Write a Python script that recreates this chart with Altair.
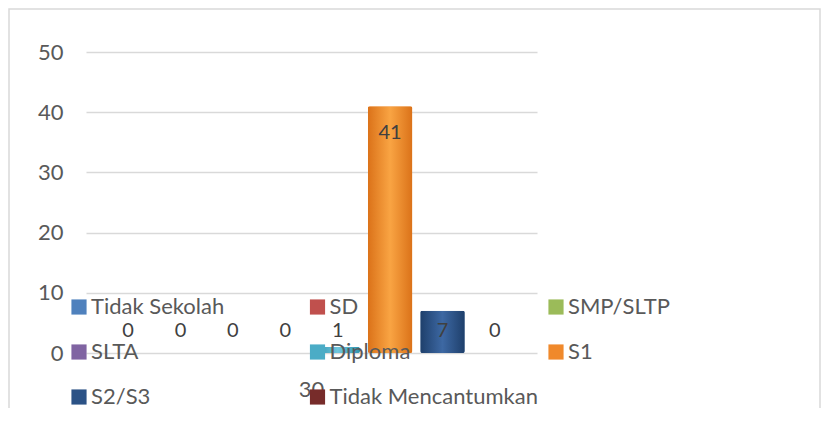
import altair as alt
import pandas as pd

categories = ["Tidak Sekolah", "SD", "SMP/SLTP", "SLTA", "Diploma", "S1", "S2/S3", "Tidak Mencantumkan"]
values = [0, 0, 0, 0, 1, 41, 7, 0]
group_label = "30"
y_ticks = [0, 10, 20, 30, 40, 50]

base_colors = ["#4F81BD", "#C0504D", "#9BBB59", "#8064A2", "#4BACC6", "#F0892B", "#2B5286", "#772C2A"]
dark_colors = ["#3A6AA8", "#A53B38", "#7FA03E", "#664C88", "#2F93AE", "#DB7219", "#1E3F6B", "#5E1F1D"]
light_colors = ["#6A9AD4", "#D8706C", "#B5D273", "#9A80BC", "#6FC6DD", "#F9A443", "#3D68A3", "#923B38"]

df = pd.DataFrame({"cat": categories, "value": values, "group": [group_label] * len(categories)})

FONT = "Lato"

x_enc = alt.X(
    "group:N",
    title=None,
    scale=alt.Scale(paddingInner=0, paddingOuter=0.038),
    axis=alt.Axis(labelAngle=0, domain=False, ticks=False, labelPadding=26,
                  labelFontSize=22, labelColor="#595959", labelFont=FONT, grid=False),
)
xoff_enc = alt.XOffset("cat:N", sort=categories,
                       scale=alt.Scale(domain=categories, paddingInner=0.152, paddingOuter=0.076))
y_enc = alt.Y(
    "value:Q",
    title=None,
    scale=alt.Scale(domain=[0, 50]),
    axis=alt.Axis(values=y_ticks, domain=False, ticks=False, labelPadding=23,
                  labelFontSize=22, labelColor="#595959", labelFont=FONT,
                  gridColor="#d9d9d9", gridWidth=1.5),
)

bars = alt.Chart(df).mark_bar(cornerRadius=2).encode(
    x=x_enc,
    xOffset=xoff_enc,
    y=y_enc,
    color=alt.Color(
        "cat:N",
        sort=categories,
        scale=alt.Scale(domain=categories, range=base_colors),
        legend=alt.Legend(
            title=None, orient="none", direction="horizontal", legendX=-18, legendY=244, columns=3,
            gridAlign="all", columnPadding=6.5, rowPadding=23, padding=0,
            symbolType="square", symbolSize=230, symbolStrokeWidth=0,
            labelFontSize=22, labelColor="#595959", labelFont=FONT,
            labelLimit=400, labelOffset=1,
        ),
    ),
)

grad_layers = []
for c, d, l in zip(categories, dark_colors, light_colors):
    grad = alt.Gradient(
        gradient="linear",
        stops=[alt.GradientStop(color=d, offset=0),
               alt.GradientStop(color=l, offset=0.5),
               alt.GradientStop(color=d, offset=1)],
        x1=0, x2=1, y1=0, y2=0,
    )
    grad_layers.append(
        alt.Chart(df).transform_filter(alt.datum.cat == c)
        .mark_bar(color=grad, cornerRadius=2)
        .encode(x=alt.X("group:N"), xOffset=alt.XOffset("cat:N", sort=categories), y=alt.Y("value:Q"))
    )

labels = alt.Chart(df).transform_calculate(
    lab="max(datum.value - 4.5, 3.6)"
).mark_text(fontSize=20, font=FONT, color="#404040", baseline="middle").encode(
    x=alt.X("group:N"),
    xOffset=alt.XOffset("cat:N", sort=categories),
    y=alt.Y("lab:Q"),
    text=alt.Text("value:Q"),
)

border = alt.Chart(pd.DataFrame({"a": [0]})).mark_rect(
    filled=False, stroke="#d9d9d9", strokeWidth=1.5
).encode(x=alt.value(-77), x2=alt.value(734), y=alt.value(-43), y2=alt.value(380))

chart = alt.layer(bars, *grad_layers, labels, border).properties(
    width=451, height=301,
    autosize=alt.AutoSizeParams(type="none"),
    padding={"left": 78, "top": 44, "right": 284, "bottom": 55},
).configure(background="white").configure_view(stroke=None)

chart.save("out.html", embed_options={"renderer": "svg", "actions": False})
